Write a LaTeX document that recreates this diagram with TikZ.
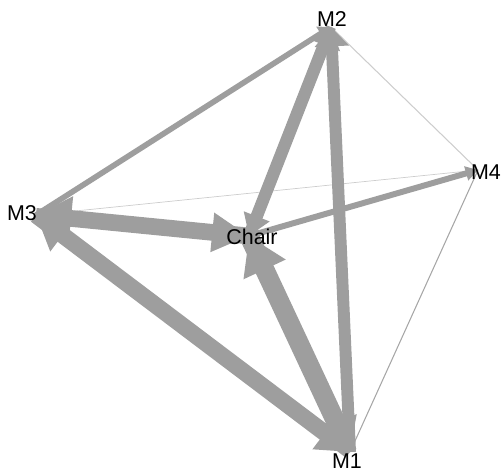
\documentclass[tikz,border=0pt]{standalone}
\usepackage{fontspec}
\setmainfont{Liberation Sans}
\usetikzlibrary{arrows.meta}
\definecolor{edgegray}{RGB}{158,158,158}
\definecolor{thingray}{RGB}{205,205,205}
\tikzset{
  vlabel/.style={font=\fontsize{12.2}{14}\selectfont, inner sep=0pt, text=black},
  tie/.style n args={3}{draw=edgegray, line width=#1, -{Triangle[length=#2, width=#3]}},
  faint/.style={draw=thingray, line width=#1},
}
\begin{document}
\begin{tikzpicture}[x=0.02cm, y=-0.02cm]
  \useasboundingbox (0,0) rectangle (503,472);
  % vertices
  \coordinate (m1) at (350,452);
  \coordinate (m2) at (331,27);
  \coordinate (m3) at (36,215);
  \coordinate (m4) at (478,170);
  \coordinate (chair) at (249,236);

  % weak ties
  \draw[faint=0.6pt] (m2) -- (m4);
  \draw[faint=0.4pt] (m3) -- (m4);
  \draw[faint=0.6pt, draw=gray!70] (m4) -- (m1);

  % strong ties
  \draw[tie={3.2pt}{7pt}{9pt}] (m3) -- (m2);
  \draw[tie={6.8pt}{11pt}{19pt}] (m1) -- (m2);
  \draw[tie={7pt}{11pt}{19pt}] (chair) -- (m2);
  \draw[tie={5.7pt}{12pt}{15pt}] (m2) -- (chair);
  \draw[tie={9.5pt}{20pt}{24pt}] (chair) -- (m3);
  \draw[tie={8pt}{21pt}{21pt}] (m3) -- (chair);
  \draw[tie={9.5pt}{18pt}{22pt}] (m3) -- (m1);
  \draw[tie={8pt}{19pt}{22pt}] (m1) -- (m3);
  \draw[tie={11pt}{18pt}{24pt}] (chair) -- (m1);
  \draw[tie={8pt}{21pt}{25pt}] (m1) -- (chair);
  \draw[tie={3.4pt}{7pt}{8pt}] (chair) -- (m4);

  % labels
  \node[vlabel] (m1lab) at (347,461) {M1};
  \node[vlabel] (m2lab) at (332,19) {M2};
  \node[vlabel] (m3lab) at (22,213) {M3};
  \node[vlabel] (m4lab) at (486,172) {M4};
  \node[vlabel] (chairlab) at (252,237) {Chair};
\end{tikzpicture}
\end{document}
